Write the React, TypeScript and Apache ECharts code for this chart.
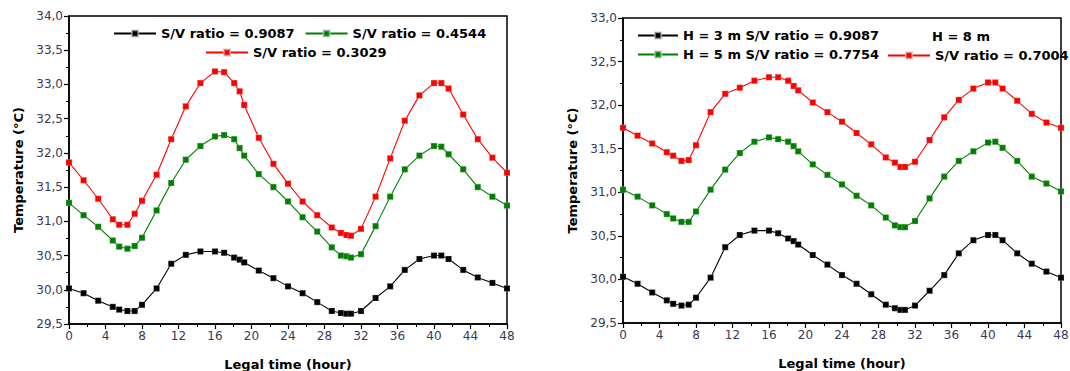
import React, { useEffect, useRef } from "react";
import * as echarts from "echarts";

const hours = [0, 1.6, 3.2, 4.8, 5.5, 6.4, 7.2, 8, 9.6, 11.2, 12.8, 14.4, 16, 17, 18.1, 18.7, 19.2, 20.8, 22.4, 24, 25.6, 27.2, 28.8, 29.8, 30.4, 30.9, 32, 33.6, 35.2, 36.8, 38.4, 40, 40.8, 41.6, 43.2, 44.8, 46.4, 48];

const leftBlack = [30.02, 29.95, 29.84, 29.75, 29.71, 29.69, 29.69, 29.78, 30.02, 30.38, 30.51, 30.56, 30.56, 30.54, 30.47, 30.44, 30.40, 30.28, 30.17, 30.05, 29.95, 29.82, 29.69, 29.66, 29.65, 29.65, 29.69, 29.88, 30.05, 30.29, 30.45, 30.50, 30.50, 30.45, 30.29, 30.18, 30.10, 30.02];
const leftGreen = [31.27, 31.09, 30.92, 30.72, 30.63, 30.60, 30.64, 30.76, 31.16, 31.56, 31.90, 32.10, 32.24, 32.26, 32.20, 32.07, 31.96, 31.69, 31.50, 31.29, 31.06, 30.85, 30.62, 30.50, 30.49, 30.47, 30.52, 30.93, 31.36, 31.76, 31.96, 32.10, 32.09, 31.98, 31.76, 31.50, 31.36, 31.23];
const leftRed = [31.86, 31.60, 31.33, 31.03, 30.95, 30.95, 31.11, 31.30, 31.68, 32.20, 32.68, 33.02, 33.19, 33.18, 33.02, 32.90, 32.70, 32.22, 31.84, 31.55, 31.29, 31.09, 30.91, 30.83, 30.80, 30.79, 30.89, 31.36, 31.92, 32.47, 32.84, 33.02, 33.02, 32.94, 32.56, 32.20, 31.93, 31.71];

const rightBlack = [30.03, 29.95, 29.85, 29.76, 29.72, 29.70, 29.71, 29.79, 30.02, 30.37, 30.51, 30.56, 30.56, 30.53, 30.47, 30.44, 30.40, 30.28, 30.17, 30.05, 29.95, 29.83, 29.71, 29.67, 29.65, 29.65, 29.70, 29.87, 30.05, 30.30, 30.45, 30.51, 30.51, 30.45, 30.30, 30.18, 30.09, 30.02];
const rightGreen = [31.03, 30.95, 30.85, 30.75, 30.70, 30.66, 30.66, 30.78, 31.03, 31.26, 31.45, 31.58, 31.63, 31.61, 31.58, 31.53, 31.47, 31.32, 31.20, 31.09, 30.96, 30.85, 30.71, 30.62, 30.60, 30.60, 30.67, 30.93, 31.18, 31.36, 31.47, 31.57, 31.58, 31.51, 31.36, 31.18, 31.10, 31.01];
const rightRed = [31.74, 31.65, 31.56, 31.46, 31.42, 31.36, 31.37, 31.54, 31.92, 32.13, 32.20, 32.28, 32.32, 32.32, 32.28, 32.22, 32.17, 32.03, 31.92, 31.81, 31.68, 31.55, 31.40, 31.34, 31.29, 31.29, 31.35, 31.60, 31.86, 32.06, 32.19, 32.26, 32.26, 32.19, 32.05, 31.90, 31.80, 31.74];

const leftNames = ["S/V ratio = 0.9087", "S/V ratio = 0.4544", "S/V ratio = 0.3029"];
const rightNames = ["H = 3 m S/V ratio = 0.9087", "H = 5 m S/V ratio = 0.7754", "S/V ratio = 0.7004"];
const colors = ["#000000", "#008000", "#ff0000"];

const FONT = "'DejaVu Sans', 'Liberation Sans', Arial, sans-serif";

function pair(vals: number[]) {
  return hours.map((h, i) => [h, vals[i]]);
}

function makeX(gridIndex: number) {
  return {
    type: "value",
    gridIndex,
    min: 0,
    max: 48,
    interval: 4,
    name: "Legal time (hour)",
    nameLocation: "middle",
    nameGap: 34,
    nameTextStyle: { fontFamily: FONT, fontWeight: "bold", fontSize: 13, color: "#000" },
    axisLine: { lineStyle: { color: "#000", width: 1.5 } },
    axisTick: { show: true, length: 5, lineStyle: { color: "#000", width: 1.2 } },
    minorTick: { show: true, splitNumber: 2, length: 3, lineStyle: { color: "#000" } },
    axisLabel: { fontFamily: FONT, fontSize: 12, color: "#3a3a55", margin: 6 },
    splitLine: { show: false },
  };
}

function makeY(gridIndex: number, max: number) {
  return {
    type: "value",
    gridIndex,
    min: 29.5,
    max,
    interval: 0.5,
    name: "Temperature (°C)",
    nameLocation: "middle",
    nameGap: 44,
    nameTextStyle: { fontFamily: FONT, fontWeight: "bold", fontSize: 13, color: "#000" },
    axisLine: { show: true, lineStyle: { color: "#000", width: 1.5 } },
    axisTick: { show: true, length: 5, lineStyle: { color: "#000", width: 1.2 } },
    minorTick: { show: true, splitNumber: 2, length: 3, lineStyle: { color: "#000" } },
    axisLabel: {
      fontFamily: FONT,
      fontSize: 12,
      color: "#3a3a55",
      margin: 6,
      formatter: (v: number) => v.toFixed(1).replace(".", ","),
    },
    splitLine: { show: false },
  };
}

function makeSeries(name: string, vals: number[], color: string, idx: number) {
  return {
    type: "line",
    name,
    xAxisIndex: idx,
    yAxisIndex: idx,
    data: pair(vals),
    symbol: "rect",
    symbolSize: 6,
    showAllSymbol: true,
    lineStyle: { color, width: 1.1 },
    itemStyle: { color, borderColor: "rgba(200,200,200,0.6)", borderWidth: 0.5 },
    emphasis: { disabled: true },
  };
}

const legendText = { fontFamily: FONT, fontWeight: "bold", fontSize: 13, color: "#000" };

export default function App() {
  const ref = useRef<HTMLDivElement>(null);
  useEffect(() => {
    if (!ref.current) return;
    const chart = echarts.init(ref.current, undefined, { renderer: "svg" });
    chart.setOption({
      animation: false,
      backgroundColor: "#fff",
      grid: [
        { left: 69, top: 16, width: 438, height: 308, show: true, borderColor: "#000", borderWidth: 1.5, containLabel: false, outerBoundsMode: "none" },
        { left: 623, top: 18, width: 438, height: 305, show: true, borderColor: "#000", borderWidth: 1.5, containLabel: false, outerBoundsMode: "none" },
      ],
      xAxis: [makeX(0), makeX(1)],
      yAxis: [makeY(0, 34), makeY(1, 33)],
      legend: [
        { data: [leftNames[0], leftNames[1]], left: 108, top: 22, itemWidth: 42, itemHeight: 8, itemGap: 10, textStyle: legendText, selectedMode: false },
        { data: [leftNames[2]], left: 200, top: 41, itemWidth: 42, itemHeight: 8, textStyle: legendText, selectedMode: false },
        { data: [rightNames[0], rightNames[1]], orient: "vertical", left: 632, top: 24, itemWidth: 40, itemHeight: 8, itemGap: 6, textStyle: legendText, selectedMode: false },
        { data: [rightNames[2]], left: 882, top: 44, itemWidth: 42, itemHeight: 8, textStyle: legendText, selectedMode: false },
      ],
      graphic: [
        { type: "text", left: 932, top: 30, style: { text: "H = 8 m", font: `bold 13px ${FONT}`, fill: "#000" } },
      ],
      series: [
        makeSeries(leftNames[0], leftBlack, colors[0], 0),
        makeSeries(leftNames[1], leftGreen, colors[1], 0),
        makeSeries(leftNames[2], leftRed, colors[2], 0),
        makeSeries(rightNames[0], rightBlack, colors[0], 1),
        makeSeries(rightNames[1], rightGreen, colors[1], 1),
        makeSeries(rightNames[2], rightRed, colors[2], 1),
      ],
    });
    return () => chart.dispose();
  }, []);
  return (
    <div
      ref={ref}
      style={{ position: "absolute", left: 0, top: 0, width: 1070, height: 371 }}
    />
  );
}
